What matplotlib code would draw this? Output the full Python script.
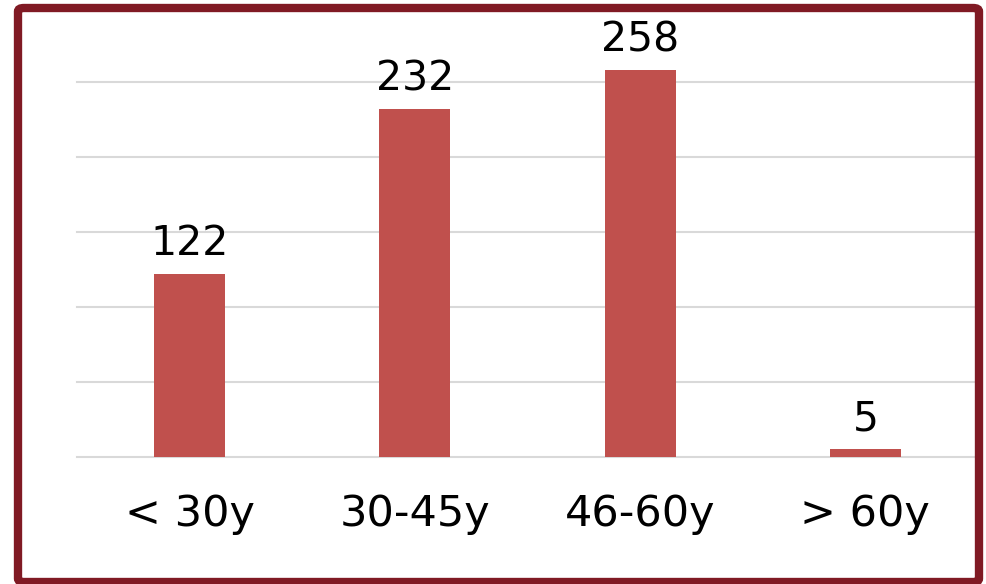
import numpy as np
import matplotlib.pyplot as plt
from matplotlib.patches import FancyBboxPatch

# Age group distribution
age_groups = ['< 30y', '30-45y', '46-60y', '> 60y']
counts = [122, 232, 258, 5]
grid_ticks = [0, 50, 100, 150, 200, 250]

bar_color = '#c0504d'
frame_color = '#801a24'

fig = plt.figure(figsize=(9.86, 5.84), dpi=100)
ax = fig.add_axes([0.0781, 0.2175, 0.9138, 0.7603])

x_pos = np.arange(len(age_groups))
ax.bar(x_pos, counts, width=0.315, color=bar_color, zorder=3)

for x, c in zip(x_pos, counts):
    ax.annotate(str(c), (x, c), xytext=(0, 7), textcoords='offset points',
                ha='center', va='bottom', fontsize=29.5, color='black')

ax.set_xlim(-0.5, 3.5)
ax.set_ylim(0, 296)
ax.set_yticks(grid_ticks)
ax.set_yticklabels([])
ax.yaxis.grid(True, color='#d9d9d9', linewidth=1.5, zorder=0)
for gl in ax.get_ygridlines():
    gl.set_clip_on(False)
ax.set_axisbelow(True)
ax.set_xticks(x_pos, labels=age_groups)
ax.tick_params(axis='x', length=0, pad=26, labelsize=31)
ax.tick_params(axis='y', length=0)
for s in ax.spines.values():
    s.set_visible(False)

# dark red frame around the whole chart
frame = FancyBboxPatch((18 / 986, 2 / 584), 961 / 986, 574 / 584,
                       boxstyle='round,pad=0,rounding_size=0.006',
                       transform=fig.transFigure, fill=False,
                       edgecolor=frame_color, linewidth=6, zorder=10)
fig.patches.append(frame)

plt.savefig('out.png', dpi=100)
